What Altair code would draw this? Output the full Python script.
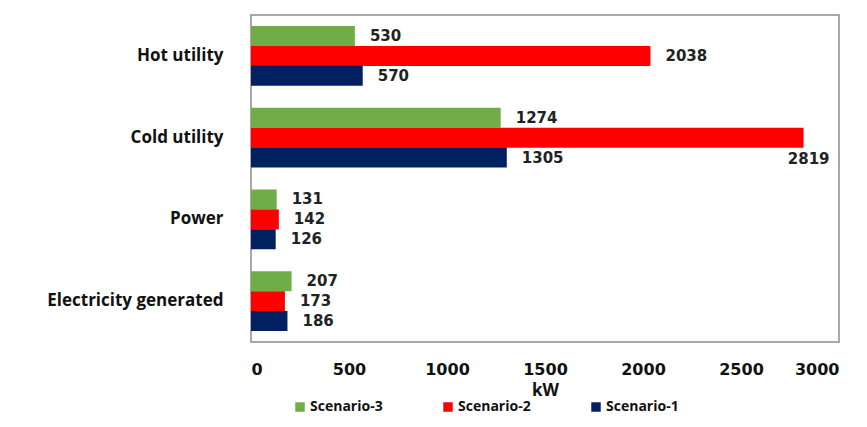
import altair as alt
import pandas as pd

categories = ["Hot utility", "Cold utility", "Power", "Electricity generated"]
series = ["Scenario-3", "Scenario-2", "Scenario-1"]
scenario3 = [530, 1274, 131, 207]
scenario2 = [2038, 2819, 142, 173]
scenario1 = [570, 1305, 126, 186]
colors = ["#70AD47", "#FF0000", "#002060"]
x_ticks = [0, 500, 1000, 1500, 2000, 2500, 3000]

rows = []
for s, vals in zip(series, [scenario3, scenario2, scenario1]):
    for c, v in zip(categories, vals):
        rows.append({"category": c, "series": s, "value": v})
df = pd.DataFrame(rows)

FONT = "Open Sans"
NUMFONT = "DejaVu Sans"

y_enc = alt.Y("category:N", sort=categories,
              scale=alt.Scale(paddingInner=0.27, paddingOuter=0.135),
              axis=alt.Axis(title=None, ticks=False, domain=False, labelFontSize=17,
                            labelFontWeight="bold", labelColor="#111111",
                            labelPadding=28, labelFont=FONT, labelLimit=300))
x_scale = alt.Scale(domain=[0, 3000], nice=False)
yoff = alt.YOffset("series:N", sort=series)

bars = alt.Chart(df).mark_bar(size=20).encode(
    y=y_enc,
    x=alt.X("value:Q", scale=x_scale,
            axis=alt.Axis(values=x_ticks, format="d", title="kW", grid=False, ticks=False,
                          domain=False, labelFontSize=16, labelFontWeight="bold",
                          labelColor="#111111", labelPadding=19, labelFont=NUMFONT,
                          titleFont=FONT, titleFontSize=17, titleFontWeight="bold",
                          titleColor="#111111", titlePadding=5)),
    yOffset=yoff,
    color=alt.Color("series:N", scale=alt.Scale(domain=series, range=colors),
                    legend=alt.Legend(title=None, orient="none", legendX=42, legendY=385,
                                      direction="horizontal", symbolType="square",
                                      symbolSize=90, symbolStrokeWidth=0,
                                      labelFontSize=14, labelFontWeight="bold",
                                      labelFont=FONT, labelColor="#111111",
                                      columnPadding=58, labelOffset=3)),
)

labels = alt.Chart(df).transform_filter(alt.datum.value != 2819).mark_text(
    align="left", baseline="middle", dx=15, fontSize=15, fontWeight="bold",
    font=NUMFONT, color="#222222").encode(
    y=alt.Y("category:N", sort=categories), x=alt.X("value:Q", scale=x_scale),
    yOffset=yoff, text=alt.Text("value:Q"))

special = alt.Chart(df).transform_filter(alt.datum.value == 2819).mark_text(
    align="right", baseline="middle", dx=26, dy=21, fontSize=15, fontWeight="bold",
    font=NUMFONT, color="#222222").encode(
    y=alt.Y("category:N", sort=categories), x=alt.X("value:Q", scale=x_scale),
    yOffset=yoff, text=alt.Text("value:Q"))

chart = alt.layer(bars, labels, special).properties(
    width=588, height=327,
    padding={"left": 251, "top": 15, "right": 28, "bottom": 85},
    autosize=alt.AutoSizeParams(type="none"),
    background="white",
).configure_view(stroke="#8c8c8c", strokeWidth=1.5)

chart.save("out.html", embed_options={"renderer": "svg", "actions": False})
